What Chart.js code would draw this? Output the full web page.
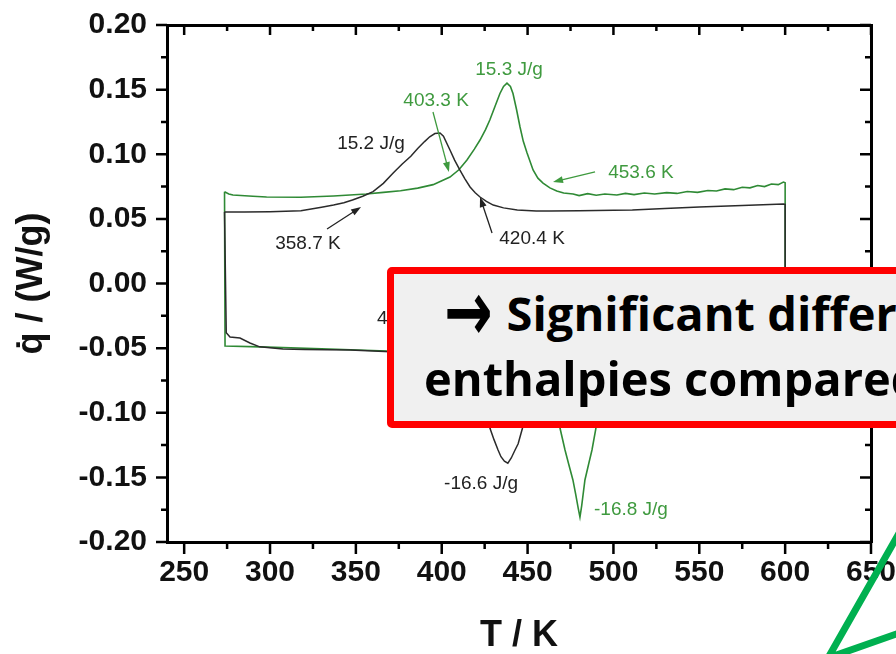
<!DOCTYPE html>
<html>
<head>
<meta charset="utf-8">
<script src="https://cdn.jsdelivr.net/npm/chart.js@4.4.1/dist/chart.umd.min.js"></script>
<style>
    html, body { margin: 0; padding: 0; background: #fff; overflow: hidden; }
    #wrap { position: relative; width: 896px; height: 654px; overflow: hidden; }
    #dsc { position: absolute; left: 0; top: 0; }
    #note {
        position: absolute; left: 387px; top: 267px; width: 620px; height: 161px;
        box-sizing: border-box; border: 7px solid #ff0000; border-radius: 5px; background: #f0f0f0;
    }
    #note .ln {
        position: absolute; white-space: nowrap; font-family: "Open Sans", sans-serif;
        font-weight: 700; font-size: 47px; line-height: 46px; color: #000;
    }
    #note .arr {
        display: inline-block; font-family: "DejaVu Sans", sans-serif; font-size: 58px;
        transform: scaleY(1.45); margin-right: 14px;
    }
    #callout { position: absolute; left: 0; top: 0; }
</style>
</head>
<body>
<div id="wrap">
    <canvas id="dsc" width="896" height="654"></canvas>
    <div id="note">
        <div class="ln" style="left:50px; top:14px;"><span class="arr">→</span>Significant differences</div>
        <div class="ln" style="left:30px; top:81px;">enthalpies compared</div>
    </div>
    <svg id="callout" width="896" height="654">
        <polyline points="902,528 828,658 902,632" fill="none" stroke="#00b050" stroke-width="7" />
    </svg>
</div>
<script>
// Axis ticks
const tempTicks = [250, 300, 350, 400, 450, 500, 550, 600, 650];
const tempMinor = [275, 325, 375, 425, 475, 525, 575, 625];
const heatTicks = [-0.20, -0.15, -0.10, -0.05, 0.00, 0.05, 0.10, 0.15, 0.20];
const heatMinor = [-0.175, -0.125, -0.075, -0.025, 0.025, 0.075, 0.125, 0.175];

// Black sample: heating (upper) then cooling (lower), one closed loop
const blackTemp = [
    273.5, 285, 300, 318, 330, 337, 343, 348, 354, 360, 366, 372, 377, 382, 386, 390, 393, 396, 399, 401,
    404.8, 407.5, 410.6, 413.5, 416.5, 419.5, 422.3, 426, 430, 436, 444, 455, 463, 480, 500, 511, 530, 550, 575, 599, 600,
    600, 560, 500, 460, 452, 449.5, 447, 444.5, 442.7, 440.5, 438.5, 436.5, 434.5, 432.8, 430.5, 428.1, 425.5, 423, 419,
    410, 380, 346.6, 320, 307.5, 294, 288.3, 282.5, 276.7, 274.5, 273.5
];
const blackHeat = [
    0.0553, 0.0553, 0.0556, 0.0562, 0.0590, 0.0607, 0.0625, 0.0646, 0.0675, 0.0711, 0.0775, 0.0858, 0.0925, 0.0985, 0.1045, 0.1098, 0.1135, 0.1160, 0.1164, 0.1140,
    0.1033, 0.0955, 0.0878, 0.0810, 0.0747, 0.0702, 0.0669, 0.0635, 0.0607, 0.0585, 0.0569, 0.0561, 0.0560, 0.0562, 0.0566, 0.0569, 0.0580, 0.0592, 0.0603, 0.0615, 0.0612,
    -0.0530, -0.0535, -0.0540, -0.0545, -0.0560, -0.0800, -0.1120, -0.1240, -0.1288, -0.1350, -0.1390, -0.1375, -0.1340, -0.1288, -0.1210, -0.1120, -0.0850, -0.0620, -0.0560,
    -0.0545, -0.0533, -0.0515, -0.0510, -0.0507, -0.0490, -0.0460, -0.0422, -0.0414, -0.0380, 0.0553
];

// Green sample
const greenTemp = [
    273.5, 276, 278.4, 290, 298, 318, 337, 356, 366, 376, 386, 395, 404.8, 410, 414.7, 419, 422.3, 425.5, 428, 431,
    433.9, 436, 438, 440, 441.5, 443.5, 445.6, 447.5, 449.7, 453.2, 456, 459, 463, 467, 471, 476.5, 480, 485, 490, 495,
    502, 507, 512, 518, 524, 531, 537, 543, 549, 555, 560, 565, 570, 575, 579.5, 584, 588, 592, 596, 599, 600,
    600, 560, 520, 495, 491.5, 489.8, 487.5, 485.5, 483.4, 481.5, 480.5, 479.5, 478, 476.4, 474, 471.8, 468.9, 466, 463, 458,
    440, 400, 368, 330, 294, 273.8, 273.5
];
const greenHeat = [
    0.0710, 0.0693, 0.0685, 0.0675, 0.0669, 0.0667, 0.0677, 0.0692, 0.0705, 0.0718, 0.0738, 0.0765, 0.0824, 0.0880, 0.0955, 0.1040, 0.1110, 0.1190, 0.1265, 0.1370,
    0.1470, 0.1525, 0.1550, 0.1525, 0.1470, 0.1350, 0.1211, 0.1100, 0.1010, 0.0878, 0.0815, 0.0777, 0.0740, 0.0716, 0.0700, 0.0692, 0.0680, 0.0695, 0.0683, 0.0692,
    0.0685, 0.0697, 0.0688, 0.0700, 0.0693, 0.0703, 0.0697, 0.0712, 0.0705, 0.0720, 0.0716, 0.0732, 0.0726, 0.0745, 0.0740, 0.0758, 0.0750, 0.0770, 0.0765, 0.0785, 0.0780,
    -0.0500, -0.0510, -0.0515, -0.0520, -0.0700, -0.1120, -0.1288, -0.1400, -0.1520, -0.1720, -0.1807, -0.1740, -0.1630, -0.1520, -0.1400, -0.1288, -0.1120, -0.0800, -0.0580, -0.0535,
    -0.0525, -0.0525, -0.0522, -0.0505, -0.0490, -0.0484, 0.0710
];

// Annotations: [text, T, q, colour, align]
const noteLabels = [
    ['15.2 J/g', 358.8, 0.108, '#222', 'center'],
    ['403.3 K', 396.7, 0.1412, '#3f9a3f', 'center'],
    ['15.3 J/g', 439.2, 0.1652, '#3f9a3f', 'center'],
    ['453.6 K', 516.0, 0.0855, '#3f9a3f', 'center'],
    ['420.4 K', 452.6, 0.0344, '#222', 'center'],
    ['358.7 K', 322.1, 0.0306, '#222', 'center'],
    ['-16.6 J/g', 422.9, -0.1551, '#222', 'center'],
    ['-16.8 J/g', 510.2, -0.1752, '#3f9a3f', 'center'],
    ['4', 362.3, -0.0275, '#222', 'left']
];
// Arrows: [fromT, fromQ, toT, toQ, colour]
const noteArrows = [
    [394.9, 0.1327, 404.2, 0.0863, '#3f9a3f'],
    [489.3, 0.0863, 464.8, 0.0785, '#3f9a3f'],
    [429.3, 0.0391, 422.3, 0.0669, '#222'],
    [333.2, 0.0422, 353.0, 0.0592, '#222']
];

const tickFont = { family: '"Liberation Sans", Arial, sans-serif', size: 30, weight: 'bold' };
const titleFont = { family: '"Liberation Sans", Arial, sans-serif', size: 36, weight: 'bold', lineHeight: 1 };

function toPoints(xs, ys) {
    return xs.map((t, i) => ({ x: t, y: ys[i] }));
}

// keep the plot frame where the layout padding puts it
function noEdgePadding(s) {
    s.paddingTop = 0;
    s.paddingBottom = 0;
    s.paddingLeft = 0;
    s.paddingRight = 0;
}

function drawArrow(ctx, x1, y1, x2, y2, color) {
    const ang = Math.atan2(y2 - y1, x2 - x1);
    ctx.strokeStyle = color;
    ctx.fillStyle = color;
    ctx.lineWidth = 1.3;
    ctx.beginPath();
    ctx.moveTo(x1, y1);
    ctx.lineTo(x2 - 6 * Math.cos(ang), y2 - 6 * Math.sin(ang));
    ctx.stroke();
    ctx.beginPath();
    ctx.moveTo(x2, y2);
    ctx.lineTo(x2 - 10 * Math.cos(ang) + 3.5 * Math.sin(ang), y2 - 10 * Math.sin(ang) - 3.5 * Math.cos(ang));
    ctx.lineTo(x2 - 10 * Math.cos(ang) - 3.5 * Math.sin(ang), y2 - 10 * Math.sin(ang) + 3.5 * Math.cos(ang));
    ctx.closePath();
    ctx.fill();
}

// Ticks on all four sides plus text notes
const overlayPlugin = {
    id: 'dscOverlay',
    afterDraw(chart) {
        const { ctx, chartArea: a, scales: { x, y } } = chart;
        ctx.save();
        ctx.strokeStyle = '#000';
        ctx.lineWidth = 2.5;
        ctx.beginPath();
        const tx = (vals, outLen, inLen) => vals.forEach(v => {
            const px = x.getPixelForValue(v);
            ctx.moveTo(px, a.bottom); ctx.lineTo(px, a.bottom + outLen);
            ctx.moveTo(px, a.top); ctx.lineTo(px, a.top + inLen);
        });
        const ty = (vals, outLen, inLen) => vals.forEach(v => {
            const py = y.getPixelForValue(v);
            ctx.moveTo(a.left, py); ctx.lineTo(a.left - outLen, py);
            ctx.moveTo(a.right, py); ctx.lineTo(a.right - inLen, py);
        });
        tx(tempTicks, 12, 10);
        tx(tempMinor, 7, 6);
        ty(heatTicks, 11, 11);
        ty(heatMinor, 6, 6);
        ctx.stroke();

        noteArrows.forEach(([t1, q1, t2, q2, c]) => {
            drawArrow(ctx, x.getPixelForValue(t1), y.getPixelForValue(q1), x.getPixelForValue(t2), y.getPixelForValue(q2), c);
        });

        ctx.font = '19px "Liberation Sans", Arial, sans-serif';
        ctx.textBaseline = 'middle';
        noteLabels.forEach(([txt, t, q, c, align]) => {
            ctx.fillStyle = c;
            ctx.textAlign = align;
            ctx.fillText(txt, x.getPixelForValue(t), y.getPixelForValue(q));
        });
        ctx.restore();
    }
};

const dscChart = new Chart(document.getElementById('dsc').getContext('2d'), {
    type: 'scatter',
    data: {
        datasets: [
            {
                data: toPoints(blackTemp, blackHeat),
                showLine: true,
                borderColor: '#2b2b2b',
                borderWidth: 1.5,
                pointRadius: 0,
                tension: 0
            },
            {
                data: toPoints(greenTemp, greenHeat),
                showLine: true,
                borderColor: '#2f8a35',
                borderWidth: 1.6,
                pointRadius: 0,
                tension: 0
            }
        ]
    },
    options: {
        responsive: false,
        animation: false,
        layout: { padding: { top: 25, right: 25, left: 0, bottom: 0 } },
        plugins: {
            legend: { display: false },
            tooltip: { enabled: false }
        },
        scales: {
            x: {
                type: 'linear',
                position: 'bottom',
                min: 240,
                max: 650,
                afterBuildTicks: s => { s.ticks = tempTicks.map(v => ({ value: v })); },
                afterFit: s => { s.height = 112; noEdgePadding(s); },
                grid: { display: false, drawTicks: false },
                border: { display: true, width: 3, color: '#000' },
                ticks: { font: tickFont, color: '#111', padding: 13, maxRotation: 0, autoSkip: false },
                title: { display: true, text: 'T / K', font: titleFont, color: '#111', padding: { top: 0, bottom: 0 } }
            },
            y: {
                type: 'linear',
                position: 'left',
                min: -0.2,
                max: 0.2,
                afterBuildTicks: s => { s.ticks = heatTicks.map(v => ({ value: v })); },
                afterFit: s => { s.width = 167; noEdgePadding(s); },
                grid: { display: false, drawTicks: false },
                border: { display: true, width: 3, color: '#000' },
                ticks: { font: tickFont, color: '#111', padding: 20, autoSkip: false, callback: v => v.toFixed(2) },
                title: { display: true, text: 'q\u0307 / (W/g)', font: titleFont, color: '#111', padding: { top: 14, bottom: 0 } }
            },
            x2: {
                type: 'linear',
                position: 'top',
                min: 240,
                max: 650,
                afterFit: s => { s.height = 0; noEdgePadding(s); },
                grid: { display: false, drawTicks: false },
                border: { display: true, width: 3, color: '#000' },
                ticks: { display: false }
            },
            y2: {
                type: 'linear',
                position: 'right',
                min: -0.2,
                max: 0.2,
                afterFit: s => { s.width = 0; noEdgePadding(s); },
                grid: { display: false, drawTicks: false },
                border: { display: true, width: 3, color: '#000' },
                ticks: { display: false }
            }
        }
    },
    plugins: [overlayPlugin]
});
</script>
</body>
</html>
